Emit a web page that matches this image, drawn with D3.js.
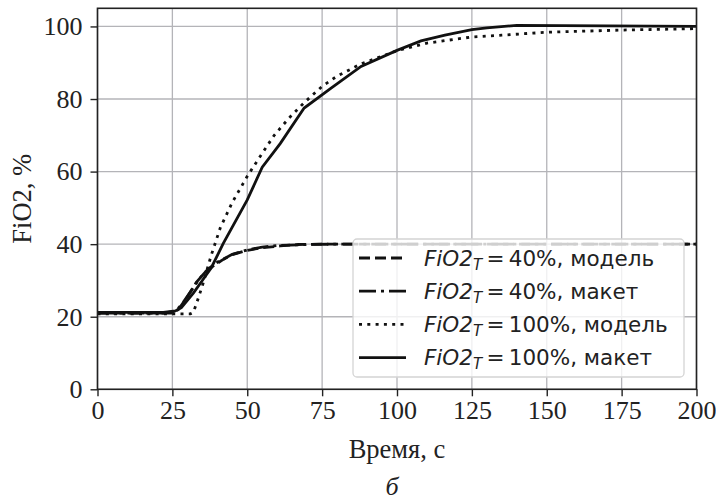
<!DOCTYPE html>
<html>
<head>
<meta charset="utf-8">
<script src="https://cdnjs.cloudflare.com/ajax/libs/d3/7.8.5/d3.min.js"></script>
<style>
body { margin: 0; background: #fff; }
</style>
</head>
<body>
<script>
// time axis values (s) and FiO2 (%) for each series
var t40model = [0, 25, 27, 30, 33, 36, 39, 42, 45, 50, 55, 61, 67, 75, 200]
var y40model = [21, 21, 22, 25.5, 29.5, 32.3, 34.2, 35.8, 37.1, 38.3, 39, 39.5, 39.9, 40, 40]

var t40maket = [0, 22, 26, 28, 31, 34, 37, 40, 45, 50, 55, 60, 70, 80, 200]
var y40maket = [21, 21, 21.5, 23.3, 26.8, 30.5, 33.2, 35, 37.2, 38.4, 39.2, 39.6, 39.9, 40, 40]

var t100model = [0, 31, 32, 33, 35, 38, 41, 45, 50, 54, 59, 64, 69, 75, 80, 88, 100, 110, 125, 135, 150, 175, 200]
var y100model = [20.8, 20.8, 21.2, 23.5, 28.5, 37, 44.5, 51.5, 58.7, 63.8, 70, 74.8, 79, 83.5, 86.3, 89.7, 93.3, 95.4, 97.1, 97.6, 98.4, 99.0, 99.4]

var t100maket = [0, 22, 26, 28, 32, 35, 38, 42, 50, 55, 61, 69, 78, 88, 100, 108, 116, 125, 130, 140, 200]
var y100maket = [21.2, 21.2, 21.6, 22.5, 26.5, 30, 33.5, 40.2, 52.2, 61.2, 67.7, 77.5, 83, 89, 93.4, 96, 97.6, 99.1, 99.6, 100.3, 100]

var xTicks = [0, 25, 50, 75, 100, 125, 150, 175, 200]
var yTicks = [0, 20, 40, 60, 80, 100]
var legendPct = ["40%, модель", "40%, макет", "100%, модель", "100%, макет"]

var width = 716, height = 501
var padding = {left: 97.5, right: 19.5, top: 8.3, bottom: 111.7}

var series = [
	{t: t40model, y: y40model, dash: "11,5", lab: legendPct[0]},
	{t: t40maket, y: y40maket, dash: "17,5,3,5", lab: legendPct[1]},
	{t: t100model, y: y100model, dash: "3,5.3", lab: legendPct[2]},
	{t: t100maket, y: y100maket, dash: null, lab: legendPct[3]}
]

var svg = d3.select("body").append("svg")
	.attr("width", width)
	.attr("height", height)

var scaleX = d3.scaleLinear().domain([0, 200]).range([padding.left, width - padding.right])
var scaleY = d3.scaleLinear().domain([0, 105]).range([height - padding.bottom, padding.top])

// grid
svg.append("g").selectAll("line.gx").data(xTicks).enter().append("line")
	.attr("x1", d => scaleX(d)).attr("x2", d => scaleX(d))
	.attr("y1", scaleY(0)).attr("y2", scaleY(105))
	.attr("stroke", "#b4b4b8").attr("stroke-width", 1.3)
svg.append("g").selectAll("line.gy").data(yTicks).enter().append("line")
	.attr("x1", scaleX(0)).attr("x2", scaleX(200))
	.attr("y1", d => scaleY(d)).attr("y2", d => scaleY(d))
	.attr("stroke", "#b4b4b8").attr("stroke-width", 1.3)

var line = d3.line().x(d => scaleX(d[0])).y(d => scaleY(d[1]))

var lines = svg.append("g").attr("clip-path", "url(#mask)")
svg.append("clipPath").attr("id", "mask").append("rect")
	.attr("x", scaleX(0)).attr("y", scaleY(105))
	.attr("width", scaleX(200) - scaleX(0)).attr("height", scaleY(0) - scaleY(105))

series.forEach(function(s) {
	var pts = s.t.map((t, i) => [t, s.y[i]])
	lines.append("path")
		.attr("d", line(pts))
		.attr("fill", "none")
		.attr("stroke", "#111")
		.attr("stroke-width", 2.8)
		.attr("stroke-dasharray", s.dash)
})

// axes
var xAxis = d3.axisBottom(scaleX).tickValues(xTicks).tickSize(7).tickPadding(4)
var yAxis = d3.axisLeft(scaleY).tickValues(yTicks).tickSize(7).tickPadding(8)

svg.append("g").attr("class", "x axis")
	.attr("transform", "translate(0," + scaleY(0) + ")")
	.call(xAxis)
svg.append("g").attr("class", "y axis")
	.attr("transform", "translate(" + scaleX(0) + ",0)")
	.call(yAxis)

svg.selectAll(".axis .domain").remove()
svg.selectAll(".axis line").attr("stroke", "#222").attr("stroke-width", 1.4)
svg.selectAll(".axis text")
	.attr("font-family", "Liberation Serif")
	.attr("font-size", 26)
	.attr("fill", "#222")

// frame
svg.append("rect")
	.attr("x", scaleX(0)).attr("y", scaleY(105))
	.attr("width", scaleX(200) - scaleX(0)).attr("height", scaleY(0) - scaleY(105))
	.attr("fill", "none").attr("stroke", "#222").attr("stroke-width", 1.6)

// axis labels
svg.append("text")
	.attr("x", scaleX(100)).attr("y", 458)
	.attr("text-anchor", "middle")
	.attr("font-family", "Liberation Serif").attr("font-size", 26.5)
	.attr("fill", "#222")
	.text("Время, с")
svg.append("text")
	.attr("transform", "translate(31," + scaleY(52.5) + ") rotate(-90)")
	.attr("text-anchor", "middle")
	.attr("font-family", "Liberation Serif").attr("font-size", 26.5)
	.attr("fill", "#222")
	.text("FiO2, %")
svg.append("text")
	.attr("x", 392).attr("y", 495)
	.attr("text-anchor", "middle")
	.attr("font-family", "Liberation Serif").attr("font-size", 26)
	.attr("font-style", "italic")
	.attr("fill", "#222")
	.text("б")

// legend
var lg = svg.append("g")
lg.append("rect")
	.attr("x", 353).attr("y", 239).attr("width", 331).attr("height", 138)
	.attr("rx", 4).attr("ry", 4)
	.attr("fill", "#fff").attr("fill-opacity", 0.8)
	.attr("stroke", "#d4d4d4").attr("stroke-width", 1.3)

series.forEach(function(s, i) {
	var yy = 258 + i * 33.2
	lg.append("line")
		.attr("x1", 359).attr("x2", 406)
		.attr("y1", yy).attr("y2", yy)
		.attr("stroke", "#111").attr("stroke-width", 2.8)
		.attr("stroke-dasharray", s.dash)
	var tx = lg.append("text")
		.attr("x", 424).attr("y", yy + 7.5)
		.attr("font-family", "DejaVu Sans").attr("font-size", 21.5)
		.attr("fill", "#222")
	tx.append("tspan").attr("font-style", "italic").text("FiO2")
	tx.append("tspan").attr("font-style", "italic").attr("font-size", 15).attr("dy", 4).text("T")
	tx.append("tspan").attr("dy", -4).text("\u2009=\u2009" + s.lab)
})
</script>
</body>
</html>
